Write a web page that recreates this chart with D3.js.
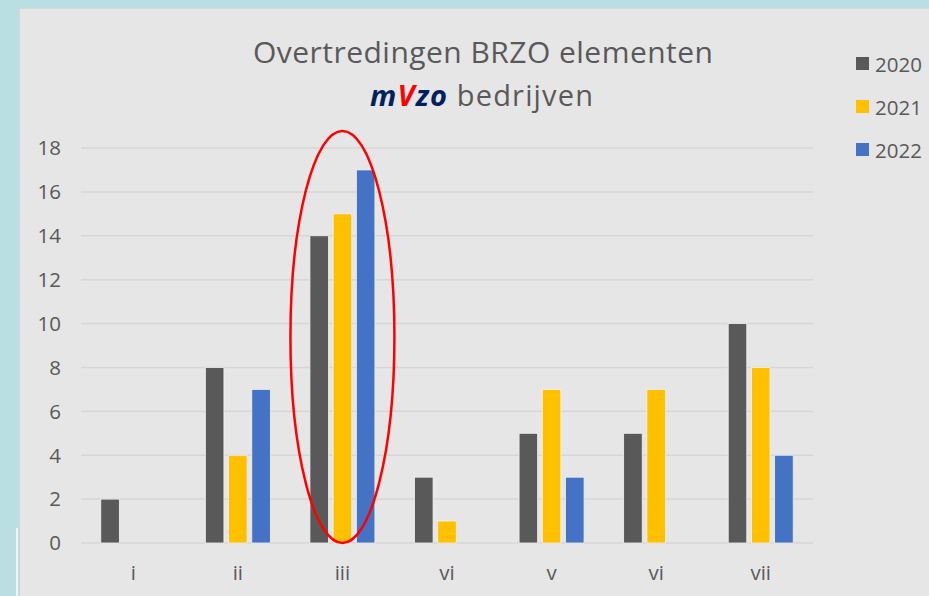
<!DOCTYPE html>
<html>
<head>
<meta charset="utf-8">
<script src="https://cdn.jsdelivr.net/npm/d3@7"></script>
<style>
  body { margin: 0; background: #b9dfe2; }
  svg { display: block; }
</style>
</head>
<body>
<svg></svg>
<script>
const width = 929;
const height = 596;
const margin = { top: 148, right: 116, bottom: 53, left: 81 };

// data
const categories = ["i", "ii", "iii", "vi", "v", "vi", "vii"];
const years = ["2020", "2021", "2022"];
const v2020 = [2, 8, 14, 3, 5, 5, 10];
const v2021 = [0, 4, 15, 1, 7, 7, 8];
const v2022 = [0, 7, 17, 0, 3, 0, 4];
const yTicks = [0, 2, 4, 6, 8, 10, 12, 14, 16, 18];
const colors = ["#595959", "#ffc000", "#4472c4"];

const series = [v2020, v2021, v2022];
const data = categories.map((c, i) => ({
  idx: i,
  cat: c,
  values: years.map((yr, j) => ({ year: yr, value: series[j][i], color: colors[j] }))
}));

const font = "'Open Sans', sans-serif";

const svg = d3.select("svg")
  .attr("width", width)
  .attr("height", height);

// panel
svg.append("rect")
  .attr("x", 19.5)
  .attr("y", 8.5)
  .attr("width", width)
  .attr("height", height)
  .attr("fill", "#e6e6e6")
  .attr("stroke", "#d6d6d6")
  .attr("stroke-width", 1);

svg.append("line")
  .attr("x1", 17).attr("x2", 17)
  .attr("y1", 528).attr("y2", height)
  .attr("stroke", "#ffffff")
  .attr("stroke-width", 1.5);

const x0 = d3.scaleBand()
  .domain(data.map(d => d.idx))
  .range([margin.left, width - margin.right])
  .padding(0);

const x1 = d3.scaleBand()
  .domain(years)
  .range([0, 65])
  .paddingInner(0.2);

const y = d3.scaleLinear()
  .domain([0, 18])
  .range([height - margin.bottom, margin.top]);

// gridlines
svg.append("g")
  .selectAll("line")
  .data(yTicks)
  .join("line")
  .attr("x1", margin.left)
  .attr("x2", width - margin.right)
  .attr("y1", d => y(d))
  .attr("y2", d => y(d))
  .attr("stroke", "#d6d6d6")
  .attr("stroke-width", 1.5);

// y labels
svg.append("g")
  .selectAll("text")
  .data(yTicks)
  .join("text")
  .attr("x", 61)
  .attr("y", d => y(d))
  .attr("dy", "0.36em")
  .attr("text-anchor", "end")
  .attr("fill", "#595959")
  .style("font-family", font)
  .style("font-size", "20.5px")
  .text(d => d);

// bars
const groups = svg.append("g")
  .selectAll("g")
  .data(data)
  .join("g")
  .attr("transform", d => `translate(${x0(d.idx) + x0.bandwidth() / 2 - 32.5},0)`);

groups.selectAll("rect")
  .data(d => d.values.filter(v => v.value > 0))
  .join("rect")
  .attr("x", d => x1(d.year))
  .attr("y", d => y(d.value))
  .attr("width", x1.bandwidth())
  .attr("height", d => y(0) - y(d.value))
  .attr("fill", d => d.color)
  .attr("stroke", "#f2f2f2")
  .attr("stroke-width", 0.8);

// x labels
svg.append("g")
  .selectAll("text")
  .data(data)
  .join("text")
  .attr("x", d => x0(d.idx) + x0.bandwidth() / 2)
  .attr("y", 580)
  .attr("text-anchor", "middle")
  .attr("fill", "#595959")
  .style("font-family", font)
  .style("font-size", "20.5px")
  .text(d => d.cat);

// red ellipse around iii
svg.append("ellipse")
  .attr("cx", x0(2) + x0.bandwidth() / 2)
  .attr("cy", (y(0) + y(18.78)) / 2)
  .attr("rx", 52)
  .attr("ry", (y(0) - y(18.78)) / 2)
  .attr("fill", "none")
  .attr("stroke", "#ff0000")
  .attr("stroke-width", 2.5);

// title
svg.append("text")
  .attr("x", 253)
  .attr("y", 63)
  .attr("fill", "#595959")
  .attr("textLength", 460)
  .attr("lengthAdjust", "spacing")
  .style("font-family", font)
  .style("font-size", "30px")
  .text("Overtredingen BRZO elementen");

const sub = svg.append("text")
  .attr("x", 370)
  .attr("y", 106)
  .attr("fill", "#595959")
  .attr("textLength", 223)
  .attr("lengthAdjust", "spacing")
  .style("font-family", font)
  .style("font-size", "29px");
sub.append("tspan").attr("fill", "#002060").style("font-weight", "bold").style("font-style", "italic").text("m");
sub.append("tspan").attr("fill", "#ff0000").style("font-weight", "bold").style("font-style", "italic").text("V");
sub.append("tspan").attr("fill", "#002060").style("font-weight", "bold").style("font-style", "italic").text("zo");
sub.append("tspan").text(" bedrijven");

// legend
const legend = svg.append("g")
  .selectAll("g")
  .data(years)
  .join("g")
  .attr("transform", (d, i) => `translate(856,${57 + i * 43})`);

legend.append("rect")
  .attr("width", 13)
  .attr("height", 13)
  .attr("fill", (d, i) => colors[i]);

legend.append("text")
  .attr("x", 19)
  .attr("y", 15)
  .attr("fill", "#595959")
  .style("font-family", font)
  .style("font-size", "20.5px")
  .text(d => d);
</script>
</body>
</html>
